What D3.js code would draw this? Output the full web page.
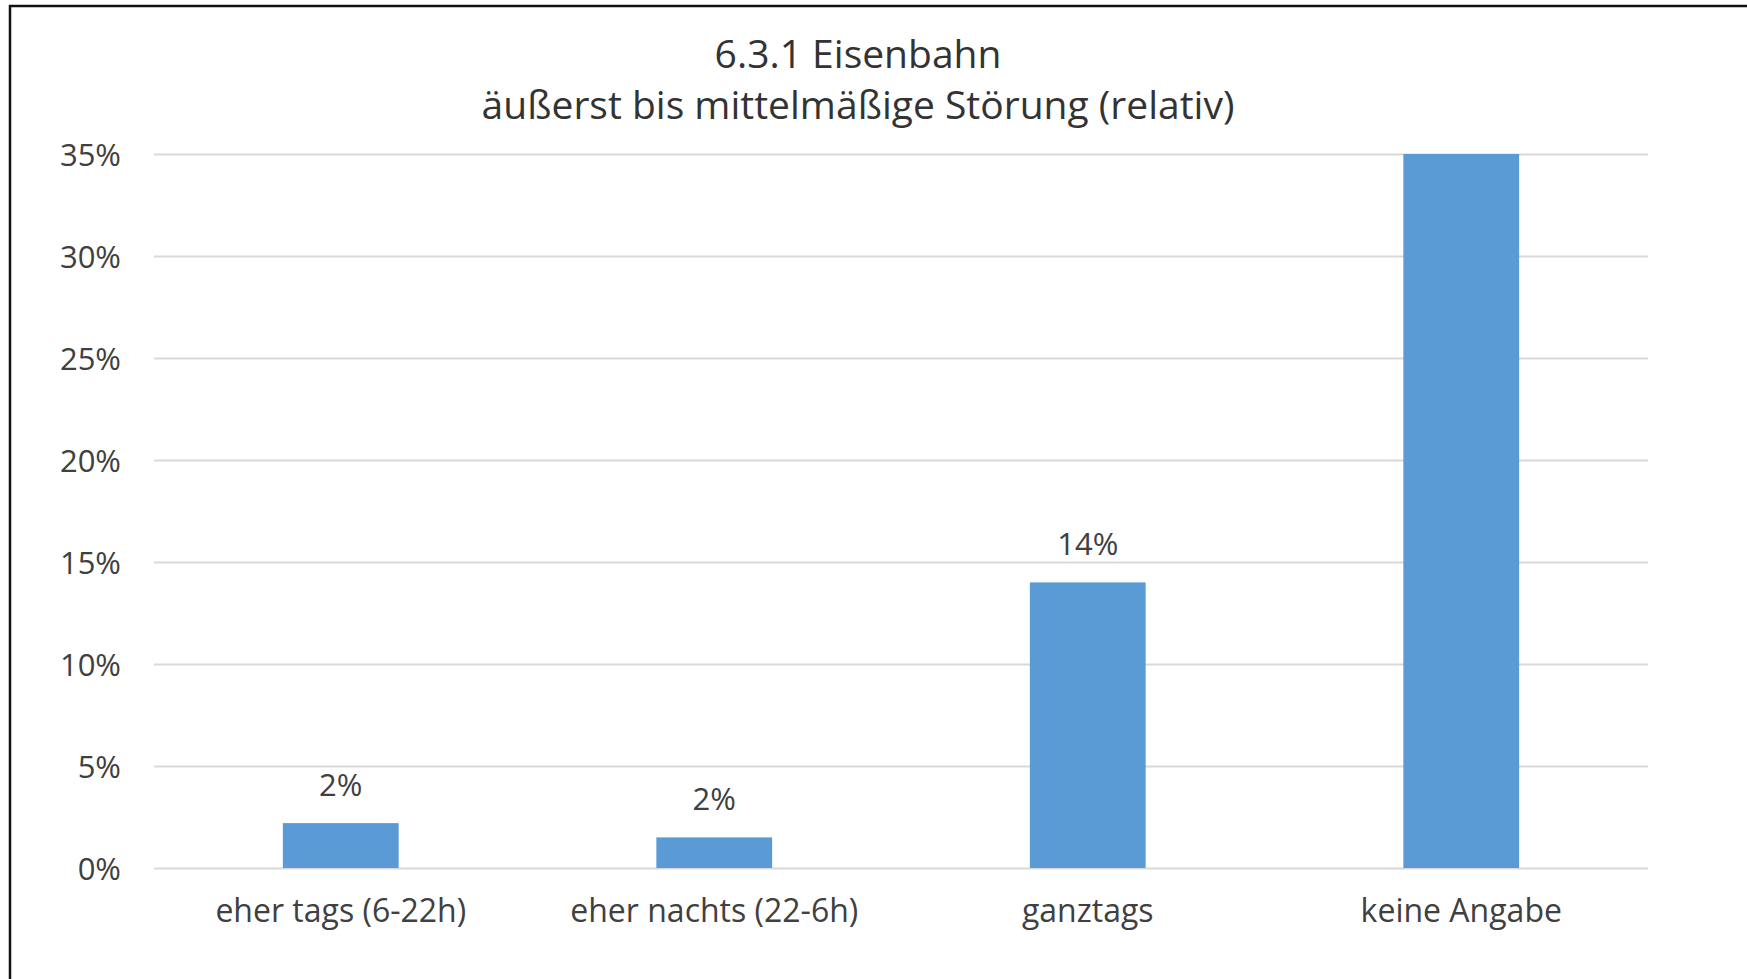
<!DOCTYPE html>
<html>
<head>
<meta charset="utf-8">
<script src="https://cdn.jsdelivr.net/npm/d3@7"></script>
<style>
  html, body { margin: 0; padding: 0; background: #fff; }
  svg { display: block; font-family: 'Open Sans', sans-serif; }
</style>
</head>
<body>
<div id="chart"></div>
<script>
// chart data
const titleLines = ['6.3.1 Eisenbahn', 'äußerst bis mittelmäßige Störung (relativ)'];
const categories = ['eher tags (6-22h)', 'eher nachts (22-6h)', 'ganztags', 'keine Angabe'];
const shares = [2.2, 1.5, 14.0, 38]; // last bar runs past the 35% axis maximum
const yTicks = [0, 5, 10, 15, 20, 25, 30, 35];

const data = categories.map((name, i) => ({ name: name, value: shares[i] }));

let width = 1747;
let height = 979;
let margin = { top: 154, right: 99, bottom: 111, left: 154 };
let plotWidth = width - margin.left - margin.right;
let plotHeight = height - margin.top - margin.bottom;
let fontFamily = "'Open Sans', sans-serif";

let svg = d3.select('#chart').append('svg')
    .attr('width', width)
    .attr('height', height);

// frame lines (top and left edge of the pasted chart)
svg.append('line')
    .attr('x1', 9).attr('x2', width).attr('y1', 6).attr('y2', 6)
    .attr('stroke', '#111').attr('stroke-width', 2.5);
svg.append('line')
    .attr('x1', 10).attr('x2', 10).attr('y1', 5).attr('y2', height)
    .attr('stroke', '#111').attr('stroke-width', 2.5);

let xScale = d3.scaleBand()
    .domain(categories)
    .range([0, plotWidth])
    .paddingInner(0.69)
    .paddingOuter(0.345);

let yScale = d3.scaleLinear()
    .domain([0, d3.max(yTicks)])
    .range([plotHeight, 0])
    .clamp(true);

let chart = svg.append('g')
    .attr('transform', `translate(${margin.left}, ${margin.top})`);

// y axis with gridlines
let yAxis = chart.append('g').attr('class', 'y-axis')
    .call(d3.axisLeft(yScale)
        .tickValues(yTicks)
        .tickFormat(d => d + '%')
        .tickSize(-plotWidth)
        .tickPadding(33))
    .attr('font-family', fontFamily);
yAxis.select('.domain').remove();
yAxis.selectAll('line')
    .attr('stroke', '#d9d9d9')
    .attr('stroke-width', 2);
yAxis.selectAll('text')
    .attr('fill', '#404040')
    .attr('font-size', 31)
    .attr('dy', '0.36em');

// x axis labels
let xAxis = chart.append('g').attr('class', 'x-axis')
    .attr('transform', `translate(0, ${plotHeight})`)
    .call(d3.axisBottom(xScale).tickSize(0))
    .attr('font-family', fontFamily);
xAxis.select('.domain').remove();
xAxis.selectAll('text')
    .attr('fill', '#404040')
    .attr('font-size', 32)
    .attr('y', 54)
    .attr('dy', 0);

// bars
chart.selectAll('rect.chart__bar').data(data).enter().append('rect')
    .attr('class', 'chart__bar')
    .attr('x', d => xScale(d.name))
    .attr('y', d => yScale(d.value))
    .attr('width', xScale.bandwidth())
    .attr('height', d => plotHeight - yScale(d.value))
    .attr('fill', '#5b9bd5');

// data labels (Excel hides the label of the bar that leaves the axis range)
chart.selectAll('text.chart__label')
    .data(data.filter(d => d.value <= d3.max(yTicks))).enter().append('text')
    .attr('class', 'chart__label')
    .attr('x', d => xScale(d.name) + xScale.bandwidth() / 2)
    .attr('y', d => yScale(d.value) - 27)
    .attr('text-anchor', 'middle')
    .attr('fill', '#404040')
    .attr('font-size', 31)
    .text(d => Math.round(d.value) + '%');

// title
svg.append('g').attr('class', 'title')
    .selectAll('text').data(titleLines).enter().append('text')
    .attr('x', 858)
    .attr('y', (d, i) => 68 + i * 51)
    .attr('text-anchor', 'middle')
    .attr('fill', '#333')
    .attr('font-size', 39)
    .text(d => d);
</script>
</body>
</html>
